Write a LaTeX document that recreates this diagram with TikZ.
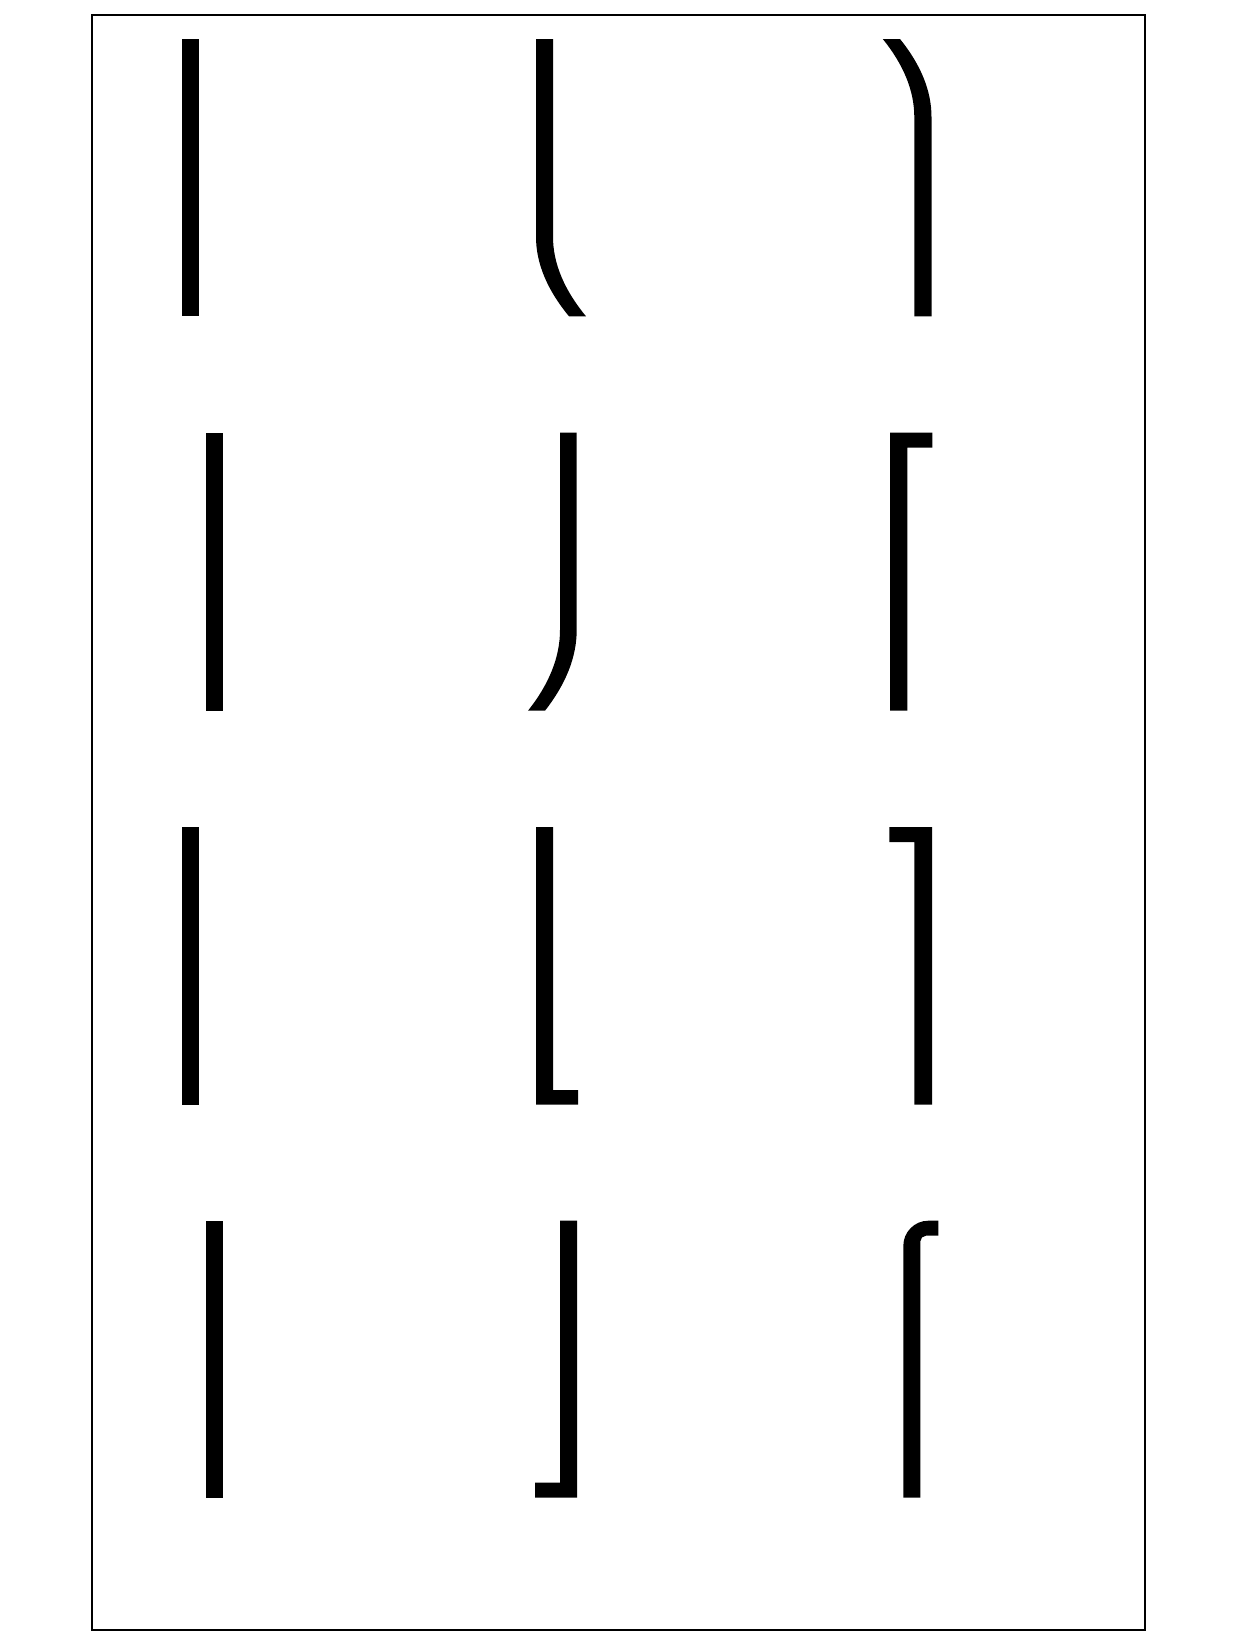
\documentclass[tikz,border=0pt]{standalone}
\begin{document}
\begin{tikzpicture}[x=0.5pt,y=-0.5pt,
  ink/.style={fill=black},
  frame/.style={draw=black,line width=0.75pt}]
\useasboundingbox (0,0) rectangle (1236,1646);
\draw[frame] (91.8,15) rectangle (1144.8,1629.8);
% row 1
\fill[ink] (182,39) rectangle (199,316.3);
\fill[ink] (536,39) -- (536,236.7) .. controls (536,263.1) and (547,289.6) .. (569,316.3)
  -- (586,316.3) .. controls (564,289.6) and (553,263.1) .. (553,236.7) -- (553,39) -- cycle;
\fill[ink] (914.3,316.3) -- (914.3,117) .. controls (914.3,91) and (903.8,65) .. (882.8,39)
  -- (900,39) .. controls (921,65) and (931.5,91) .. (931.5,117) -- (931.5,316.3) -- cycle;
% row 2
\fill[ink] (206,432.7) rectangle (222.7,710.7);
\fill[ink] (560,432.7) -- (560,630) .. controls (560,656.9) and (549.3,683.8) .. (528,710.7)
  -- (545,710.7) .. controls (566,683.8) and (576.7,656.9) .. (576.7,630) -- (576.7,432.7) -- cycle;
\fill[ink] (890,710.7) -- (890,432.7) -- (932.3,432.7) -- (932.3,447.7) -- (907.3,447.7) -- (907.3,710.7) -- cycle;
% row 3
\fill[ink] (182,827) rectangle (199,1104.7);
\fill[ink] (536,827) -- (536,1104.7) -- (578,1104.7) -- (578,1090) -- (553,1090) -- (553,827) -- cycle;
\fill[ink] (932,1104.7) -- (932,827) -- (889.3,827) -- (889.3,842) -- (914.3,842) -- (914.3,1104.7) -- cycle;
% row 4
\fill[ink] (206,1220.5) rectangle (222.7,1497.7);
\fill[ink] (577,1220.5) -- (577,1497.7) -- (535,1497.7) -- (535,1482.7) -- (560,1482.7) -- (560,1220.5) -- cycle;
\fill[ink] (903.3,1497.7) -- (903.3,1246) .. controls (903.3,1232) and (914.5,1220.7) .. (928.3,1220.7)
  -- (938.3,1220.7) -- (938.3,1235.7) -- (926,1235.7) .. controls (922.9,1235.7) and (920.3,1238.3) .. (920.3,1241.4)
  -- (920.3,1497.7) -- cycle;
\end{tikzpicture}
\end{document}
